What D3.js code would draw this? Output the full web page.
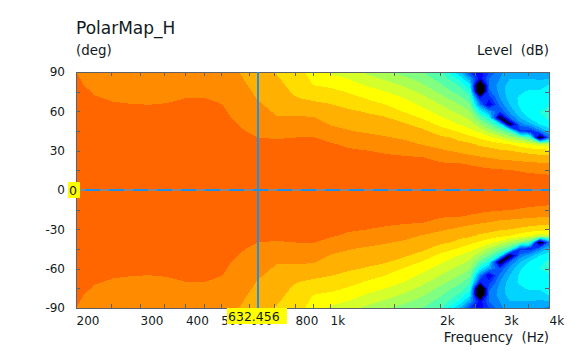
<!DOCTYPE html>
<html>
<head>
<meta charset="utf-8">
<script src="https://cdn.jsdelivr.net/npm/d3@7"></script>
<style>
	html, body { margin: 0; padding: 0; background: #ffffff; }
	svg { display: block; }
	text { font-family: "DejaVu Sans", Verdana, sans-serif; fill: #111a22; }
</style>
</head>
<body>
<svg width="584" height="351"></svg>

<script type="text/javascript">

	// Values.
	var frequencies = [200, 224, 252, 283, 317, 356, 400, 449, 504, 566, 635, 713, 800, 898, 1008, 1131,
		1270, 1425, 1600, 1796, 2016, 2137, 2275, 2425, 2584, 2735, 2932, 3123, 3327, 3545, 3778, 4000];

	// Off-axis angles of each column below, 0 to 90 deg. The lower half of the map mirrors it.
	var angles = [0, 5, 10, 15, 20, 25, 30, 35, 40, 45, 50, 55, 60, 65, 70, 75, 80, 85, 90];

	// Level in dB, one line per frequency.
	var levels = [
		[0, -.2, -.3, -.5, -.7, -.8, -1, -1.2, -1.3, -1.5, -1.7, -1.8, -2, -2.2, -2.3, -2.5, -2.7, -2.8, -3],
		[0, -.2, -.4, -.6, -.8, -1, -1.2, -1.4, -1.6, -1.8, -2.1, -2.3, -2.5, -2.7, -2.9, -3.1, -3.4, -3.7, -4],
		[0, -.2, -.4, -.7, -.9, -1.1, -1.3, -1.5, -1.8, -2, -2.2, -2.4, -2.6, -2.9, -3.1, -3.5, -3.8, -4.2, -4.5],
		[0, -.2, -.5, -.7, -.9, -1.1, -1.4, -1.6, -1.8, -2, -2.3, -2.5, -2.7, -2.95, -3.3, -3.7, -4, -4.4, -4.8],
		[0, -.2, -.5, -.7, -.9, -1.2, -1.4, -1.6, -1.8, -2.1, -2.3, -2.5, -2.8, -3, -3.4, -3.8, -4.2, -4.6, -5],
		[0, -.2, -.4, -.7, -.9, -1.1, -1.3, -1.6, -1.8, -2, -2.2, -2.5, -2.7, -2.9, -3.3, -3.7, -4.1, -4.6, -5],
		[0, -.2, -.4, -.6, -.9, -1.1, -1.3, -1.5, -1.7, -1.9, -2.1, -2.4, -2.6, -2.8, -3, -3.5, -4, -4.5, -5],
		[0, -.2, -.4, -.6, -.8, -1.1, -1.3, -1.5, -1.7, -1.9, -2.1, -2.3, -2.5, -2.7, -2.96, -3.5, -4, -4.5, -5],
		[0, -.2, -.5, -.7, -.9, -1.1, -1.4, -1.6, -1.8, -2, -2.3, -2.5, -2.7, -2.95, -3.4, -3.9, -4.4, -4.9, -5.4],
		[0, -.3, -.6, -.9, -1.2, -1.5, -1.8, -2.1, -2.4, -2.8, -3.1, -3.5, -3.8, -4.2, -4.6, -4.9, -5.3, -5.7, -6.1],
		[0, -.4, -.8, -1.1, -1.5, -1.9, -2.3, -2.6, -3, -3.5, -4.1, -4.6, -5.1, -5.7, -6.2, -6.6, -7.1, -7.5, -8],
		[0, -.4, -.8, -1.2, -1.5, -1.9, -2.3, -2.7, -3.1, -4.1, -5, -5.8, -6.4, -6.8, -7.3, -7.8, -8.3, -8.7, -9.2],
		[0, -.4, -.8, -1.1, -1.5, -1.9, -2.3, -2.6, -3, -3.9, -4.8, -5.7, -6.7, -7.8, -8.8, -9.4, -9.8, -10.3, -10.8],
		[0, -.4, -.7, -1.1, -1.5, -1.8, -2.2, -2.6, -2.9, -3.8, -4.8, -5.8, -7, -8.3, -9.5, -10.8, -12, -12.5, -13],
		[0, -.4, -.8, -1.2, -1.6, -2, -2.4, -2.8, -3.8, -5, -6.2, -7.1, -8, -8.9, -10, -11.3, -12.6, -14.1, -15.5],
		[0, -.5, -.9, -1.4, -1.8, -2.3, -2.7, -3.5, -4.7, -5.9, -6.8, -7.7, -8.6, -9.8, -11, -12.3, -13.8, -15.2, -17],
		[0, -.5, -1, -1.5, -2, -2.5, -3, -4.2, -5.3, -6.4, -7.3, -8.3, -9.3, -10.8, -12.3, -13.8, -15.3, -17, -18.7],
		[0, -.5, -1.1, -1.6, -2.1, -2.6, -3.4, -4.6, -5.8, -6.8, -7.8, -8.8, -10.3, -12, -13.5, -15, -16.7, -18.5, -20.5],
		[0, -.6, -1.1, -1.7, -2.2, -2.8, -3.8, -5.2, -6.4, -7.5, -8.6, -10.3, -12.3, -13.6, -15, -16.7, -18.4, -20.3, -22.2],
		[0, -.6, -1.2, -1.8, -2.4, -3, -4.7, -6.2, -7.3, -8.4, -10.2, -12.3, -14, -15.6, -17.1, -18.8, -20.6, -22.3, -24],
		[0, -.7, -1.4, -2, -2.7, -4, -5.7, -6.8, -8.5, -10.5, -12.8, -14.6, -16.3, -18, -19.9, -21.8, -23.6, -25.3, -27],
		[0, -.7, -1.4, -2.1, -2.8, -4.3, -6.1, -7.4, -9, -11.5, -13.8, -15.9, -17.6, -19.5, -21.4, -23.6, -25.5, -27.4, -31],
		[0, -.7, -1.5, -2.2, -2.9, -4.8, -6.6, -8.1, -10, -12.5, -15.2, -17, -19, -21, -23, -25.2, -27.6, -30.8, -36],
		[0, -.8, -1.5, -2.3, -3.2, -5.4, -7.1, -8.5, -11.2, -14, -16.5, -18.7, -21, -23.5, -26, -28.8, -32.3, -38, -46],
		[0, -.8, -1.6, -2.4, -3.6, -5.8, -7.6, -9.6, -12.6, -16, -20.2, -25, -31.5, -40, -48, -70, -70, -50, -50],
		[0, -.9, -1.7, -2.6, -3.9, -6.2, -7.9, -10.2, -14, -19, -24, -30, -38, -52, -47, -43, -41, -42, -45],
		[0, -.9, -1.8, -2.7, -4.6, -6.8, -8.6, -11.4, -16, -23, -31, -58, -45, -41, -39, -38, -38, -39, -40],
		[0, -1, -1.9, -2.9, -4.9, -7, -9, -12, -19.5, -27, -58, -42, -38, -36, -34.5, -34, -34.5, -36, -37],
		[0, -1, -2.1, -3.2, -5.2, -7.3, -9.6, -13.5, -22, -46, -41, -36, -33.5, -32.5, -32.5, -33.5, -35, -36, -37],
		[0, -1.1, -2.2, -3.6, -5.4, -7.6, -10.2, -15, -27, -47, -37, -32.5, -31, -31, -31.5, -32.5, -34.5, -36, -37.5],
		[0, -1.2, -2.3, -3.8, -5.6, -8, -10.8, -17, -60, -40, -33, -30.5, -30, -30.5, -31.5, -32.5, -34.5, -36.5, -38.5],
		[0, -1.3, -2.5, -4, -5.8, -8.2, -11, -17, -42, -35, -31, -29.5, -29.5, -30.2, -31, -32, -32.8, -36, -40]
	];

	// Lower edge of each colour band, and the band's colour.
	var bandEdges = [-100, -57, -54, -51, -48, -45, -42, -39, -36, -33, -30, -27, -24, -21, -18, -15, -12, -9, -6, -3];
	var bandColors = ["#000000", "#000055", "#0000aa", "#0000ff", "#002bff", "#0055ff", "#0080ff", "#00aaff", "#00d4ff", "#00ffff",
		"#2bffd4", "#55ffaa", "#80ff80", "#aaff55", "#d4ff2b", "#ffff00", "#ffdd00", "#ffb000", "#ff8c00", "#ff6600"];

	var xTicks = [200, 250, 300, 350, 400, 450, 500, 600, 700, 800, 900, 1000, 1500, 2000, 2500, 3000, 3500, 4000];
	var xLabels = { 200: "200", 300: "300", 400: "400", 500: "500", 600: "600", 800: "800", 1000: "1k", 2000: "2k", 3000: "3k", 4000: "4k" };
	var yTicks = [-90, -75, -60, -45, -30, -15, 0, 15, 30, 45, 60, 75, 90];
	var yLabels = [-90, -60, -30, 0, 30, 60, 90];

	var cursorFreq = 632.456;
	var cursorAngle = 0;

	var plotLeft = 76, plotRight = 549, plotTop = 72, plotBottom = 308;
	var frameColor = "#5c6268";
	var cursorColor = "#1e90e6";

	var svg = d3.select("svg");

	var x = d3.scaleLog().domain([200, 4000]).range([plotLeft, plotRight]);
	var y = d3.scaleLinear().domain([90, -90]).range([plotTop, plotBottom]);

	// Full map, +90 down to -90, as d3.contours wants it.
	var rowAngles = angles.slice().reverse().concat(angles.slice(1).map(function(a) { return -a; }));
	var values = [];
	rowAngles.forEach(function(a) {
		var k = angles.indexOf(Math.abs(a));
		levels.forEach(function(col) { values.push(col[k]); });
	});

	// Contour coordinates have grid node i at i + 0.5.
	var xOfIndex = d3.scaleLinear().domain(d3.range(frequencies.length)).range(frequencies.map(x)).clamp(true);
	var yOfIndex = d3.scaleLinear().domain(d3.range(rowAngles.length)).range(rowAngles.map(y)).clamp(true);

	var path = d3.geoPath(d3.geoTransform({
		point: function(a, b) { this.stream.point(xOfIndex(a - 0.5), yOfIndex(b - 0.5)); }
	}));

	var contours = d3.contours()
		.size([frequencies.length, rowAngles.length])
		.thresholds(bandEdges)(values);

	svg.append("g").selectAll("path").data(contours).enter().append("path")
		.attr("d", path)
		.attr("fill", function(d, i) { return bandColors[i]; })
		.attr("shape-rendering", "crispEdges");

	// Ticks on all four sides, pointing inwards.
	function styleAxis(g) {
		g.selectAll("path.domain").attr("stroke", frameColor).attr("stroke-width", 1.5).attr("shape-rendering", "crispEdges");
		g.selectAll("line").attr("stroke", frameColor).attr("shape-rendering", "crispEdges");
		g.selectAll("text").attr("font-size", 12).style("font-family", "DejaVu Sans").attr("fill", "#111a22");
	}

	svg.append("g").attr("transform", "translate(0," + plotBottom + ")")
		.call(d3.axisBottom(x).tickValues(xTicks).tickSize(-4).tickSizeOuter(0).tickPadding(8.5)
			.tickFormat(function(d) { return xLabels[d] || ""; }))
		.call(styleAxis)
		.selectAll("text").attr("text-anchor", "start");

	svg.append("g").attr("transform", "translate(0," + plotTop + ")")
		.call(d3.axisTop(x).tickValues(xTicks).tickSize(-4).tickSizeOuter(0).tickFormat(""))
		.call(styleAxis);

	svg.append("g").attr("transform", "translate(" + plotLeft + ",0)")
		.call(d3.axisLeft(y).tickValues(yTicks).tickSize(-4).tickSizeOuter(0).tickPadding(11)
			.tickFormat(function(d) { return yLabels.indexOf(d) >= 0 ? String(d) : ""; }))
		.call(styleAxis);

	svg.append("g").attr("transform", "translate(" + plotRight + ",0)")
		.call(d3.axisRight(y).tickValues(yTicks).tickSize(-4).tickSizeOuter(0).tickFormat(""))
		.call(styleAxis);

	// Cursor lines. The zero grid line shows through the horizontal one in gray dashes.
	svg.append("line")
		.attr("x1", x(cursorFreq)).attr("x2", x(cursorFreq)).attr("y1", plotTop).attr("y2", plotBottom)
		.attr("stroke", cursorColor).attr("stroke-width", 1.5).attr("shape-rendering", "crispEdges");
	svg.append("line")
		.attr("x1", plotLeft).attr("x2", plotRight).attr("y1", y(cursorAngle)).attr("y2", y(cursorAngle))
		.attr("stroke", cursorColor).attr("stroke-width", 1.5).attr("shape-rendering", "crispEdges");
	svg.append("line")
		.attr("x1", plotLeft).attr("x2", plotRight).attr("y1", y(cursorAngle)).attr("y2", y(cursorAngle))
		.attr("stroke", "#7f8a94").attr("stroke-width", 1.5).attr("stroke-dasharray", "9,15").attr("shape-rendering", "crispEdges");

	// Cursor readouts.
	svg.append("rect").attr("x", 68).attr("y", 182).attr("width", 12).attr("height", 16).attr("fill", "#ffff00");
	svg.append("text").attr("x", 69).attr("y", 195).attr("font-size", 12.5).text(cursorAngle);

	svg.append("rect").attr("x", 227).attr("y", 308).attr("width", 60).attr("height", 16).attr("fill", "#ffff00");
	svg.append("text").attr("x", 228).attr("y", 321).attr("font-size", 12.5).text(cursorFreq);

	// Titles.
	svg.append("text").attr("x", plotLeft).attr("y", 34).attr("font-size", 17).text("PolarMap_H");
	svg.append("text").attr("x", plotLeft).attr("y", 55).attr("font-size", 13.4).text("(deg)");
	svg.append("text").attr("x", plotRight).attr("y", 55).attr("font-size", 13.4).attr("text-anchor", "end")
		.attr("xml:space", "preserve").text("Level  (dB)");
	svg.append("text").attr("x", plotRight).attr("y", 342).attr("font-size", 13.4).attr("text-anchor", "end")
		.attr("xml:space", "preserve").text("Frequency  (Hz)");

</script>
</body>
</html>
